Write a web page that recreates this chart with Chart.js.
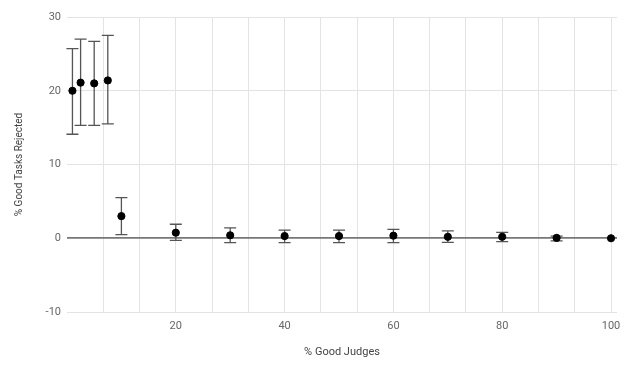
<!DOCTYPE html>
<html>
<head>
<meta charset="utf-8">
<script src="https://cdn.jsdelivr.net/npm/chart.js@4"></script>
<style>
  html, body { margin: 0; padding: 0; background: #fff; }
  #wrap { width: 624px; height: 365px; }
</style>
</head>
<body>
<div id="wrap"><canvas id="chart"></canvas></div>
<script>
// % good judges on the x axis
const judgePcts = [1, 2.5, 5, 7.5, 10, 20, 30, 40, 50, 60, 70, 80, 90, 100];
// mean % of good tasks rejected
const rejectedMean = [20.0, 21.1, 21.0, 21.4, 3.0, 0.75, 0.4, 0.3, 0.3, 0.35, 0.2, 0.2, 0.05, 0];
// error bar ends
const errHigh = [25.7, 27.0, 26.7, 27.5, 5.5, 1.9, 1.4, 1.1, 1.1, 1.2, 1.0, 0.8, 0.3, 0];
const errLow = [14.1, 15.3, 15.3, 15.5, 0.5, -0.3, -0.6, -0.6, -0.6, -0.6, -0.55, -0.45, -0.35, 0];

const xTickLabels = [20, 40, 60, 80, 100];
const yTickLabels = [-10, 0, 10, 20, 30];
const xGridStep = 20 / 3;

const errorBars = {
  id: "errorBars",
  beforeDatasetsDraw(chart) {
    const { ctx, scales } = chart;
    const x = scales.x, y = scales.y;
    ctx.save();
    ctx.strokeStyle = "#555";
    ctx.lineWidth = 1.3;
    judgePcts.forEach((v, i) => {
      if (errHigh[i] === errLow[i]) return;
      const px = x.getPixelForValue(v);
      const top = y.getPixelForValue(errHigh[i]);
      const bot = y.getPixelForValue(errLow[i]);
      ctx.beginPath();
      ctx.moveTo(px, top); ctx.lineTo(px, bot);
      ctx.moveTo(px - 6, top); ctx.lineTo(px + 6, top);
      ctx.moveTo(px - 6, bot); ctx.lineTo(px + 6, bot);
      ctx.stroke();
    });
    ctx.restore();
  },
};

new Chart(document.getElementById("chart"), {
  type: "scatter",
  data: {
    datasets: [{
      data: judgePcts.map((v, i) => ({ x: v, y: rejectedMean[i] })),
      backgroundColor: "#000",
      borderColor: "#000",
      pointRadius: 3.6,
    }],
  },
  options: {
    responsive: true,
    maintainAspectRatio: false,
    animation: false,
    layout: { padding: { top: 17, right: 7, left: 0, bottom: 0 } },
    plugins: { legend: { display: false }, tooltip: { enabled: false } },
    scales: {
      x: {
        type: "linear",
        min: 0,
        max: 101.1,
        afterBuildTicks: (scale) => {
          const t = [];
          for (let k = 1; k <= 15; k++) t.push({ value: k * xGridStep });
          scale.ticks = t;
        },
        afterFit: (scale) => {
          scale.height = 53;
          scale.paddingRight = 0;
          scale.paddingLeft = 0;
        },
        border: { display: false },
        grid: { color: "#e3e3e3", drawTicks: false },
        ticks: {
          padding: 8,
          color: "#666",
          font: { family: "Roboto", size: 11 },
          maxRotation: 0,
          autoSkip: false,
          callback: (v) => {
            const hit = xTickLabels.find((l) => Math.abs(l - v) < 1e-6);
            return hit === undefined ? "" : String(hit);
          },
        },
        title: {
          display: true,
          text: "% Good Judges",
          color: "#444",
          font: { family: "Roboto", size: 11 },
          padding: { top: 0, bottom: 6 },
        },
      },
      y: {
        min: -10,
        max: 30,
        afterBuildTicks: (scale) => {
          scale.ticks = yTickLabels.map((v) => ({ value: v }));
        },
        afterFit: (scale) => { scale.width = 67; },
        border: { display: false },
        grid: {
          drawTicks: false,
          color: (c) => (c.tick && c.tick.value === 0 ? "#777" : "#e3e3e3"),
          lineWidth: (c) => (c.tick && c.tick.value === 0 ? 1.8 : 1),
        },
        ticks: {
          padding: 6,
          color: "#666",
          font: { family: "Roboto", size: 11 },
        },
        title: {
          display: true,
          text: "% Good Tasks Rejected",
          color: "#444",
          font: { family: "Roboto", size: 10 },
          padding: { top: 13, bottom: 0 },
        },
      },
    },
  },
  plugins: [errorBars],
});
</script>
</body>
</html>
